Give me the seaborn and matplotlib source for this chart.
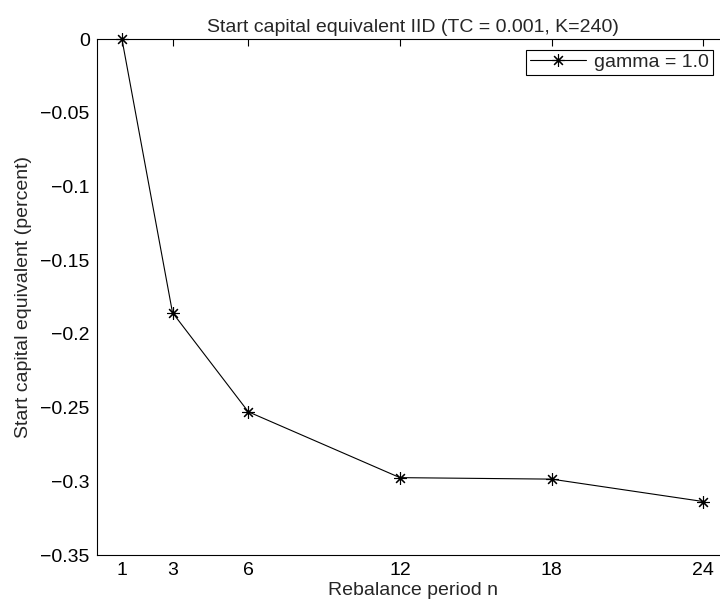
import matplotlib
matplotlib.use("Agg")
import matplotlib.pyplot as plt
import seaborn as sns
import pandas as pd

periods = [1, 3, 6, 12, 18, 24]
sce = [0.0, -0.1855, -0.2528, -0.2975, -0.2985, -0.3137]
x_ticks = [1, 3, 6, 12, 18, 24]
y_ticks = [0, -0.05, -0.1, -0.15, -0.2, -0.25, -0.3, -0.35]
y_tick_labels = ["0", "\u22120.05", "\u22120.1", "\u22120.15", "\u22120.2", "\u22120.25", "\u22120.3", "\u22120.35"]

sns.set_theme(style="white")
plt.rcParams['font.family'] = ['Liberation Sans', 'DejaVu Sans']

df = pd.DataFrame({"n": periods, "v": sce})

W, H = 720, 611
fig = plt.figure(figsize=(7.2, 6.11), dpi=100)
left_px, right_px, top_px, bot_px = 96.7, 728.4, 39.3, 555.0
ax = fig.add_axes([left_px / W, 1 - bot_px / H, (right_px - left_px) / W, (bot_px - top_px) / H])

sns.lineplot(data=df, x="n", y="v", color="black", label="gamma = 1.0",
             marker=(8, 2, 0), markersize=9, markeredgewidth=0.8,
             markeredgecolor="black", linewidth=0.8, ax=ax, clip_on=False)

ax.set_xlim(0, 25)
ax.set_ylim(-0.35, 0)
ax.set_xticks(x_ticks)
ax.set_xticklabels([str(t) for t in x_ticks])
ax.set_yticks(y_ticks)
ax.set_yticklabels(y_tick_labels)
ax.tick_params(direction="in", top=True, right=True, length=5, width=0.8,
               labelsize=14, colors="black", pad=5)
for s in ax.spines.values():
    s.set_color("black")
    s.set_linewidth(0.8)

ax.set_xlabel("Rebalance period n", fontsize=14, labelpad=2)
ax.set_ylabel("Start capital equivalent (percent)", fontsize=14, labelpad=6)
ax.set_title("Start capital equivalent IID (TC = 0.001, K=240)", fontsize=14, pad=5)

leg = ax.legend(loc="upper right", bbox_to_anchor=(713 / W, 1 - 49.5 / H),
                bbox_transform=fig.transFigure, borderaxespad=0,
                fontsize=14, frameon=True, fancybox=False,
                edgecolor="black", framealpha=1, borderpad=0.2,
                handlelength=2.9, handletextpad=0.4)
leg.get_frame().set_linewidth(0.8)

fig.savefig("out.png", dpi=100)
